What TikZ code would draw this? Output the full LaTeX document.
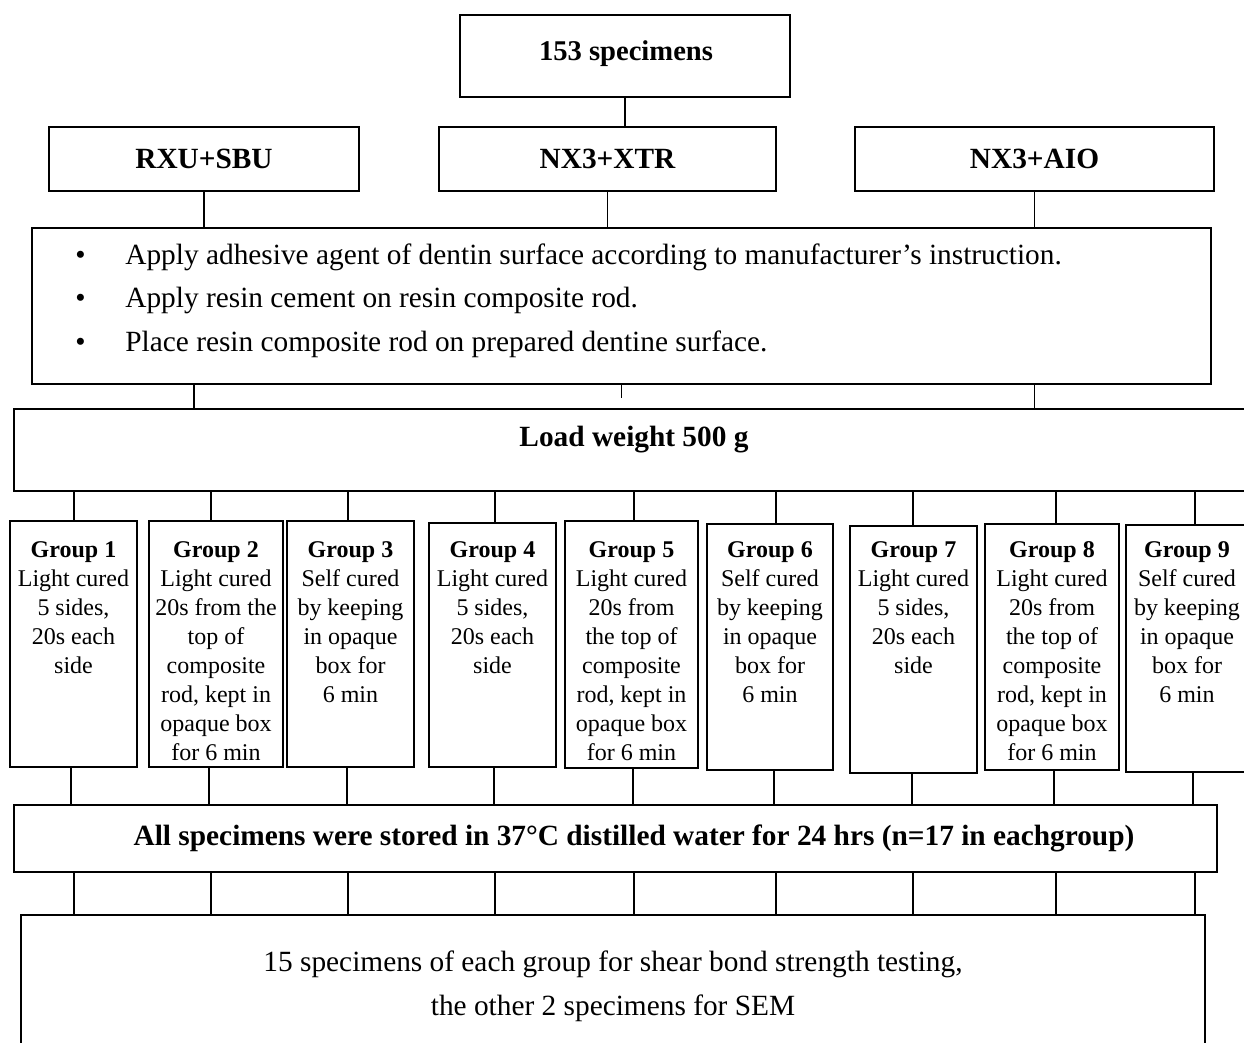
\documentclass[tikz,border=0pt]{standalone}
\usepackage{fontspec}
\setmainfont{Liberation Serif}
\begin{document}
\begin{tikzpicture}[x=0.5pt,y=-0.5pt,
  box/.style={draw, line width=0.85pt, inner sep=0pt},
  conn/.style={line width=0.7pt},
  head/.style={font=\fontsize{14.67}{17}\selectfont\bfseries},
  body/.style={font=\fontsize{14.67}{21.75}\selectfont},
  gtext/.style={font=\fontsize{12}{14.5}\selectfont, align=center, anchor=north, inner sep=0pt},
]
\useasboundingbox (0,0) rectangle (1244,1043);
\clip (0,0) rectangle (1244,1043);

% top level
\node[box, minimum width=165pt, minimum height=41pt] (top) at (625,56) {};
\node[head, font=\fontsize{14.3}{17}\selectfont\bfseries] (topt) at (626,54) {153 specimens};

\node[box, minimum width=155pt, minimum height=32pt, head] (rxu) at (204,159) {RXU+SBU};
\node[box, minimum width=168.5pt, minimum height=32pt, head] (xtr) at (607.5,159) {NX3+XTR};
\node[box, minimum width=179.5pt, minimum height=32pt, head] (aio) at (1034.5,159) {NX3+AIO};

% bullets
\node[box, minimum width=589.5pt, minimum height=78pt] (bullets) at (621.5,306) {};
\node[body, align=left, anchor=north west, inner sep=0pt] (btext) at (75,243)
  {\makebox[25pt][l]{•}Apply adhesive agent of dentin surface according to manufacturer’s instruction.\\
   \makebox[25pt][l]{•}Apply resin cement on resin composite rod.\\
   \makebox[25pt][l]{•}Place resin composite rod on prepared dentine surface.};

% load
\node[box, minimum width=621pt, minimum height=41pt] (load) at (635,450) {};
\node[head] (loadt) at (634,440) {Load weight 500 g};

% groups
\node[box, minimum width=63.5pt, minimum height=123pt] (g1) at (73.5,644) {};
\node[box, minimum width=67pt, minimum height=123pt] (g2) at (216,644) {};
\node[box, minimum width=63.5pt, minimum height=123pt] (g3) at (350.5,644) {};
\node[box, minimum width=63.5pt, minimum height=122pt] (g4) at (492.5,645) {};
\node[box, minimum width=66.5pt, minimum height=123.5pt] (g5) at (631.5,644.5) {};
\node[box, minimum width=63pt, minimum height=123pt] (g6) at (770,647) {};
\node[box, minimum width=63.5pt, minimum height=123.5pt] (g7) at (913.5,649.5) {};
\node[box, minimum width=67pt, minimum height=123pt] (g8) at (1052,647) {};
\node[box, minimum width=69pt, minimum height=123.5pt] (g9) at (1195,648.5) {};

\node[gtext] (g1t) at (73.5,541) {\textbf{Group 1}\\Light cured\\5 sides,\\20s each\\side};
\node[gtext] (g2t) at (216,541) {\textbf{Group 2}\\Light cured\\20s from the\\top of\\composite\\rod, kept in\\opaque box\\for 6 min};
\node[gtext] (g3t) at (350.5,541) {\textbf{Group 3}\\Self cured\\by keeping\\in opaque\\box for\\6 min};
\node[gtext] (g4t) at (492.5,541) {\textbf{Group 4}\\Light cured\\5 sides,\\20s each\\side};
\node[gtext] (g5t) at (631.5,541) {\textbf{Group 5}\\Light cured\\20s from\\the top of\\composite\\rod, kept in\\opaque box\\for 6 min};
\node[gtext] (g6t) at (770,541) {\textbf{Group 6}\\Self cured\\by keeping\\in opaque\\box for\\6 min};
\node[gtext] (g7t) at (913.5,541) {\textbf{Group 7}\\Light cured\\5 sides,\\20s each\\side};
\node[gtext] (g8t) at (1052,541) {\textbf{Group 8}\\Light cured\\20s from\\the top of\\composite\\rod, kept in\\opaque box\\for 6 min};
\node[gtext] (g9t) at (1187,541) {\textbf{Group 9}\\Self cured\\by keeping\\in opaque\\box for\\6 min};

% storage
\node[box, minimum width=601.5pt, minimum height=33.5pt] (store) at (615.5,838.5) {};
\node[head] (storet) at (634,838) {All specimens were stored in 37°C distilled water for 24 hrs (n=17 in eachgroup)};

% final
\node[box, minimum width=592pt, minimum height=77.5pt] (final) at (613,992.5) {};
\node[body, align=center, font=\fontsize{14.67}{22}\selectfont] (finalt) at (613,986)
  {15 specimens of each group for shear bond strength testing,\\the other 2 specimens for SEM};

% connectors
\draw[conn] (top.south) -- (top.south |- xtr.north);
\foreach \n in {rxu,xtr,aio}
  \draw[conn] (\n.south) -- (\n.south |- bullets.north);
\draw[conn] ([xshift=-5pt]bullets.south -| rxu.south) -- ([xshift=-5pt]load.north -| rxu.south);
\draw[conn] (bullets.south) -- ++(0,13);
\draw[conn] (bullets.south -| aio.south) -- (load.north -| aio.south);
\foreach \i/\a/\b in {1/0.5/-2.5,2/-5/-7,3/-2.5/-3.5,4/2.5/1.5,5/2.5/1.5,6/6/4,7/-0.5/-1.5,8/4/2,9/0/-2}{
  \draw[conn] ([xshift=\a*0.5pt]load.south -| g\i.north) -- ([xshift=\a*0.5pt]g\i.north);
  \draw[conn] ([xshift=\b*0.5pt]g\i.south) -- ([xshift=\b*0.5pt]store.north -| g\i.south);
  \draw[conn] ([xshift=\a*0.5pt]store.south -| g\i.south) -- ([xshift=\a*0.5pt]final.north -| g\i.south);
}
\end{tikzpicture}
\end{document}
